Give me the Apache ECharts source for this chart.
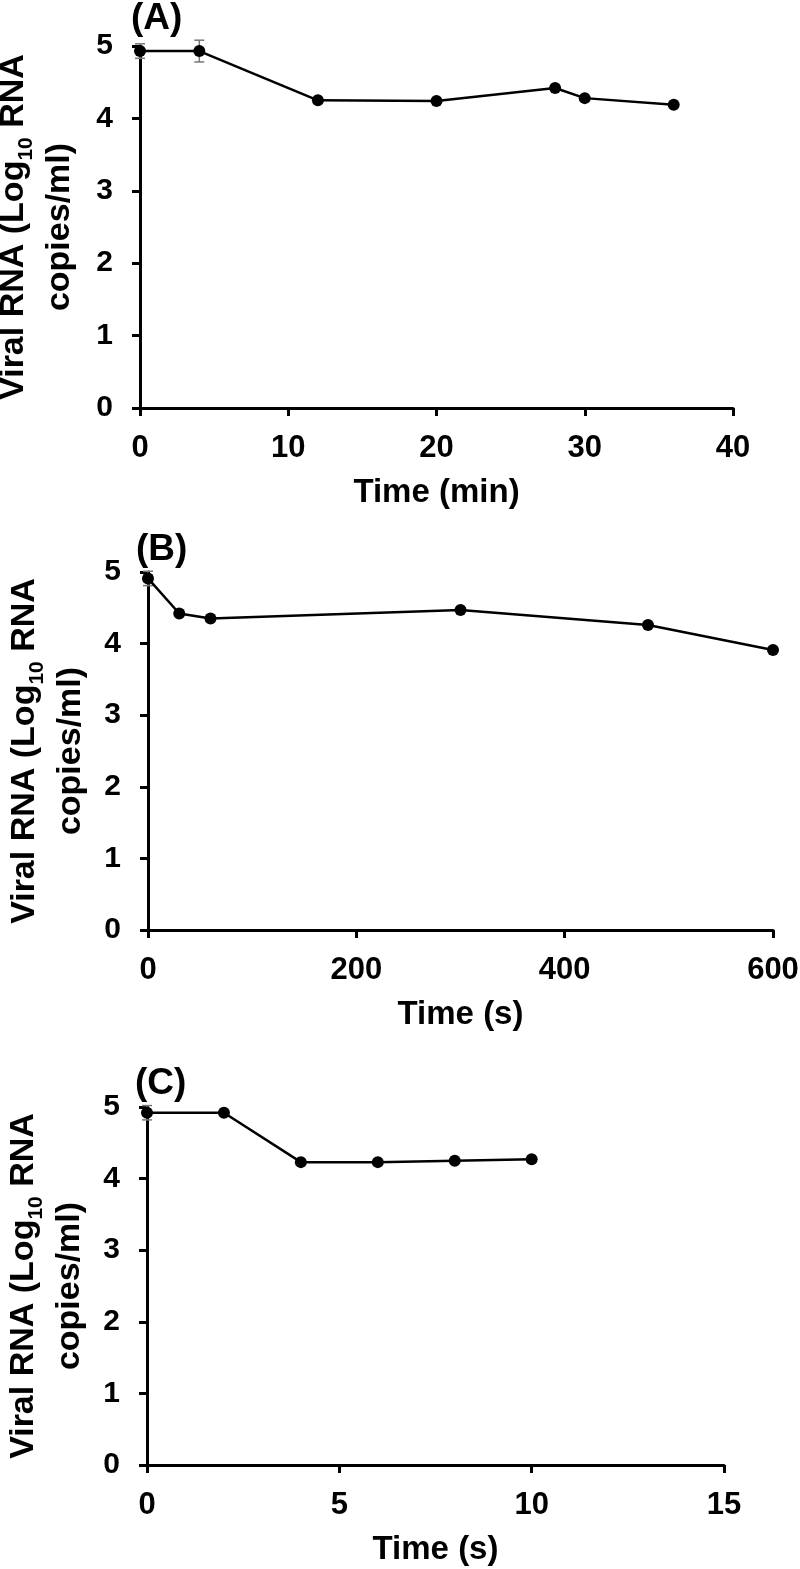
<!DOCTYPE html>
<html>
<head>
<meta charset="utf-8">
<script src="https://cdn.jsdelivr.net/npm/echarts@6/dist/echarts.min.js"></script>
<style>
html,body{margin:0;padding:0;background:#fff;}
#chart{width:800px;height:1569px;}
</style>
</head>
<body>
<div id="chart"></div>
<script>
// Panel A: time in minutes
const timeA = [0, 4, 12, 20, 28, 30, 36];
const rnaA  = [4.93, 4.93, 4.25, 4.24, 4.42, 4.28, 4.19];
const errA  = [0.10, 0.15, 0, 0, 0, 0, 0];
// Panel B: time in seconds
const timeB = [0, 30, 60, 300, 480, 600];
const rnaB  = [4.91, 4.42, 4.35, 4.47, 4.26, 3.91];
const errB  = [0.10, 0, 0, 0, 0, 0];
// Panel C: time in seconds
const timeC = [0, 2, 4, 6, 8, 10];
const rnaC  = [4.92, 4.92, 4.23, 4.23, 4.25, 4.27];
const errC  = [0.10, 0, 0, 0, 0, 0];

const panelTitles = ['(A)', '(B)', '(C)'];
const xNames = ['Time (min)', 'Time (s)', 'Time (s)'];
const xMax = [40, 600, 15];
const xInterval = [10, 200, 5];
const yName = 'Viral RNA (Log{sub|10} RNA\ncopies/ml)';

const FONT = '"Liberation Sans", Arial, sans-serif';
const chart = echarts.init(document.getElementById('chart'));

const grids = [
  {left: 140, top: 46, width: 593, height: 362, containLabel: false, outerBoundsMode: 'none'},
  {left: 148, top: 572, width: 625, height: 358, containLabel: false, outerBoundsMode: 'none'},
  {left: 147, top: 1107, width: 577, height: 358, containLabel: false, outerBoundsMode: 'none'}
];
const titlePos = [{left: 126, top: -5}, {left: 131, top: 526}, {left: 130, top: 1060}];
const yGaps = [57, 50, 47];

function mkData(t, v) { return t.map((x, i) => [x, v[i]]); }
function mkErr(t, v, e) { return t.map((x, i) => [x, v[i], e[i]]); }

const datasets = [[timeA, rnaA, errA], [timeB, rnaB, errB], [timeC, rnaC, errC]];

const axisLineStyle = {show: true, lineStyle: {color: '#000', width: 3}};
const axisTickStyle = {show: true, length: 8, lineStyle: {color: '#000', width: 3}};

const option = {
  animation: false,
  backgroundColor: '#fff',
  title: panelTitles.map((t, i) => ({
    text: t, left: titlePos[i].left, top: titlePos[i].top,
    textStyle: {fontFamily: FONT, fontWeight: 'bold', fontSize: 37, color: '#000'}
  })),
  grid: grids,
  xAxis: grids.map((g, i) => ({
    type: 'value', gridIndex: i, min: 0, max: xMax[i], interval: xInterval[i],
    name: xNames[i], nameLocation: 'middle', nameGap: 85,
    nameTextStyle: {fontFamily: FONT, fontWeight: 'bold', fontSize: 33, color: '#000', verticalAlign: 'middle'},
    axisLine: axisLineStyle, axisTick: axisTickStyle, splitLine: {show: false},
    axisLabel: {fontFamily: FONT, fontWeight: 'bold', fontSize: 31, color: '#000', margin: 40, verticalAlign: 'middle'}
  })),
  yAxis: grids.map((g, i) => ({
    type: 'value', gridIndex: i, min: 0, max: 5, interval: 1,
    name: yName, nameLocation: 'middle', nameRotate: 90, nameGap: yGaps[i],
    nameTextStyle: {
      fontFamily: FONT, fontWeight: 'bold', fontSize: 34, color: '#000', lineHeight: 46,
      rich: {
        sub: {fontFamily: FONT, fontWeight: 'bold', fontSize: 21, color: '#000', verticalAlign: 'bottom', lineHeight: 46, padding: [11, 0, 0, 0]}
      }
    },
    axisLine: axisLineStyle, axisTick: axisTickStyle, splitLine: {show: false},
    axisLabel: {fontFamily: FONT, fontWeight: 'bold', fontSize: 30, color: '#000', margin: 27}
  })),
  series: []
};

datasets.forEach((d, i) => {
  option.series.push({
    type: 'custom', xAxisIndex: i, yAxisIndex: i, z: 1,
    data: mkErr(d[0], d[1], d[2]),
    renderItem: function (params, api) {
      const x = api.value(0), y = api.value(1), e = api.value(2);
      if (!e) return null;
      const top = api.coord([x, y + e]);
      const bot = api.coord([x, y - e]);
      const w = 5;
      const st = {stroke: '#777', lineWidth: 1.5};
      return {type: 'group', children: [
        {type: 'line', shape: {x1: top[0], y1: top[1], x2: bot[0], y2: bot[1]}, style: st},
        {type: 'line', shape: {x1: top[0] - w, y1: top[1], x2: top[0] + w, y2: top[1]}, style: st},
        {type: 'line', shape: {x1: bot[0] - w, y1: bot[1], x2: bot[0] + w, y2: bot[1]}, style: st}
      ]};
    }
  });
  option.series.push({
    type: 'line', xAxisIndex: i, yAxisIndex: i, z: 3,
    data: mkData(d[0], d[1]),
    symbol: 'circle', symbolSize: 12,
    itemStyle: {color: '#000'},
    lineStyle: {color: '#000', width: 2.5}
  });
});

chart.setOption(option);
</script>
</body>
</html>
